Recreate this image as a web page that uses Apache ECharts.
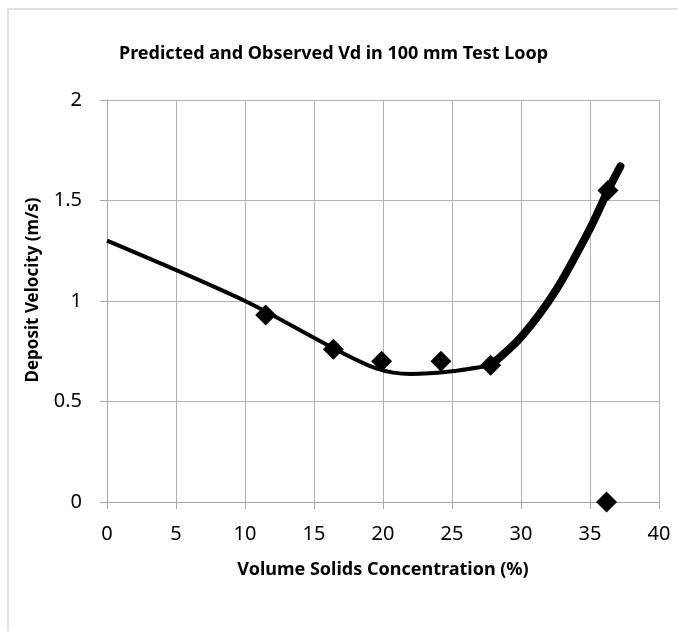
<!DOCTYPE html>
<html>
<head>
<meta charset="utf-8">
<script src="https://cdn.jsdelivr.net/npm/echarts@6/dist/echarts.min.js"></script>
<style>
  html, body { margin: 0; padding: 0; background: #fff; }
  #chart { width: 678px; height: 631px; }
</style>
</head>
<body>
<div id="chart"></div>
<script>
// predicted curve, thin part and thick part
var predThinX = [0, 10, 16.4, 19.5, 22, 25, 27.8];
var predThinY = [1.3, 1.0, 0.765, 0.665, 0.637, 0.65, 0.68];
var predThickX = [27.8, 30, 32.5, 35, 36.3, 37.2];
var predThickY = [0.68, 0.82, 1.05, 1.36, 1.55, 1.67];
// observed points
var obsX = [11.5, 16.4, 19.9, 24.2, 27.8, 36.3, 36.2];
var obsY = [0.93, 0.76, 0.70, 0.70, 0.68, 1.55, 0];

function pairs(xs, ys) {
  return xs.map(function (x, i) { return [x, ys[i]]; });
}

var font = 'Noto Sans';
var chart = echarts.init(document.getElementById('chart'));
chart.setOption({
  animation: false,
  backgroundColor: '#fff',
  title: {
    text: 'Predicted and Observed Vd in 100 mm Test Loop',
    left: 114,
    top: 40,
    textStyle: { fontFamily: font, fontSize: 18, fontWeight: 'bold', color: '#000' }
  },
  graphic: [{
    type: 'rect',
    shape: { x: 8, y: 9, width: 720, height: 720 },
    style: { fill: 'none', stroke: '#d9d9d9', lineWidth: 1.5 },
    silent: true
  }],
  grid: { left: 107, right: 19, top: 100, bottom: 129 },
  xAxis: {
    type: 'value',
    min: 0, max: 40, interval: 5,
    name: 'Volume Solids Concentration (%)',
    nameLocation: 'middle',
    nameGap: 59,
    nameTextStyle: { fontFamily: font, fontSize: 18, fontWeight: 'bold', color: '#000' },
    axisLine: { show: true, onZero: false, lineStyle: { color: '#a6a6a6', width: 1 } },
    axisTick: { show: true, length: 7, lineStyle: { color: '#a6a6a6' } },
    axisLabel: { margin: 22, fontFamily: font, fontSize: 20, color: '#000' },
    splitLine: { show: true, lineStyle: { color: '#b3b3b3', width: 1 } }
  },
  yAxis: {
    type: 'value',
    min: 0, max: 2, interval: 0.5,
    name: 'Deposit Velocity (m/s)',
    nameLocation: 'middle',
    nameGap: 65,
    nameTextStyle: { fontFamily: font, fontSize: 17, fontWeight: 'bold', color: '#000', padding: [0, 0, 0, 22] },
    axisLine: { show: true, lineStyle: { color: '#a6a6a6', width: 1 } },
    axisTick: { show: true, length: 7, lineStyle: { color: '#a6a6a6' } },
    axisLabel: { margin: 25, fontFamily: font, fontSize: 20, color: '#000' },
    splitLine: { show: true, lineStyle: { color: '#b3b3b3', width: 1 } }
  },
  series: [
    {
      name: 'Predicted',
      type: 'line',
      data: pairs(predThinX, predThinY),
      smooth: 0.3,
      showSymbol: false,
      lineStyle: { color: '#000', width: 4 },
      z: 2
    },
    {
      name: 'Predicted',
      type: 'line',
      data: pairs(predThickX, predThickY),
      smooth: 0.3,
      showSymbol: false,
      lineStyle: { color: '#000', width: 8, cap: 'round' },
      z: 2
    },
    {
      name: 'Observed',
      type: 'scatter',
      data: pairs(obsX, obsY),
      symbol: 'diamond',
      symbolSize: 21,
      itemStyle: { color: '#000', opacity: 1 },
      z: 3
    }
  ]
});
</script>
</body>
</html>
